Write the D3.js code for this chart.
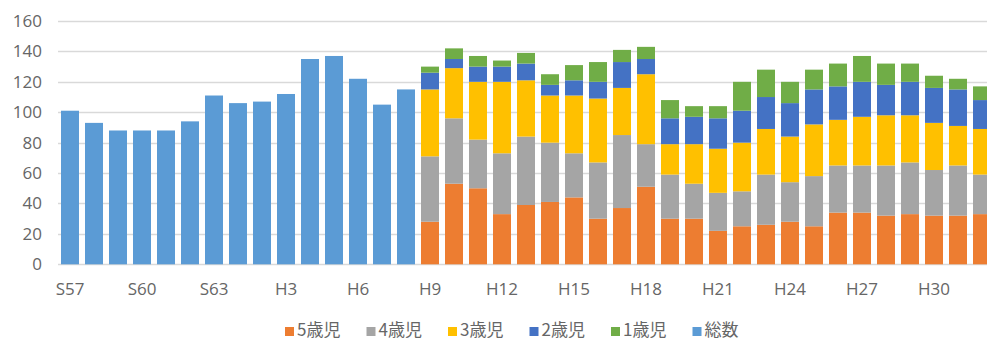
<!DOCTYPE html>
<html><head><meta charset="utf-8">
<script src="https://cdn.jsdelivr.net/npm/d3@7"></script>
<style>body{margin:0;background:#fff;} svg{display:block;}</style>
</head><body><svg id="c" width="987" height="340"></svg>
<script>
// Categories (fiscal years)
const years = ["S57","S58","S59","S60","S61","S62","S63",
  "H1","H2","H3","H4","H5","H6","H7","H8","H9","H10","H11","H12","H13","H14","H15",
  "H16","H17","H18","H19","H20","H21","H22","H23","H24","H25","H26","H27","H28","H29","H30","R1","R2"];
const tickLabels = ["S57","S60","S63","H3","H6","H9","H12","H15","H18","H21","H24","H27","H30"];
const yTicks = [0,20,40,60,80,100,120,140,160];

// 総数 (S57 - H8)
const totalYears = years.slice(0, 15);
const total = [101,93,88,88,88,94,111,106,107,112,135,137,122,105,115];

// By age (H9 - R2)
const ageYears = years.slice(15);
const age5 = [28,53,50,33,39,41,44,30,37,51,30,30,22,25,26,28,25,34,34,32,33,32,32,33];
const age4 = [43,43,32,40,45,39,29,37,48,28,29,23,25,23,33,26,33,31,31,33,34,30,33,26];
const age3 = [44,33,38,47,37,31,38,42,31,46,20,26,29,32,30,30,34,30,32,33,31,31,26,30];
const age2 = [11,6,10,10,11,7,10,11,17,10,17,18,20,21,21,22,23,22,23,20,22,23,24,19];
const age1 = [4,7,7,4,7,7,10,13,8,8,12,7,8,19,18,14,13,15,17,14,12,8,7,9];

const seriesNames = ["5歳児","4歳児","3歳児","2歳児","1歳児","総数"];
const colors = ["#ED7D31","#A5A5A5","#FFC000","#4472C4","#70AD47","#5B9BD5"];

const svg = d3.select("#c");
const x = d3.scaleBand().domain(years).range([58, 58 + years.length*24])
  .paddingInner(0.25).paddingOuter(0.125);
const y = d3.scaleLinear().domain([0,160]).range([264.3, 21]);

const textColor = "#666666";
const numFont = "'Open Sans', 'Noto Sans', sans-serif";

// gridlines
svg.append("g").selectAll("line").data(yTicks).join("line")
  .attr("x1", 58).attr("x2", 987)
  .attr("y1", d => Math.round(y(d)) + 0.5).attr("y2", d => Math.round(y(d)) + 0.5)
  .attr("stroke", "#D9D9D9").attr("stroke-width", 1.3);

// y axis labels
const yAxis = d3.axisLeft(y).tickValues(yTicks).tickSize(0).tickPadding(0);
const gy = svg.append("g").attr("transform", "translate(42,0)").call(yAxis);
gy.select(".domain").remove();
gy.selectAll("text").attr("fill", textColor).style("font-family", numFont).style("font-size", "17px");

// x axis labels
const xAxis = d3.axisBottom(x).tickValues(tickLabels).tickSize(0).tickPadding(0);
const gx = svg.append("g").attr("transform", "translate(0,283)").call(xAxis);
gx.select(".domain").remove();
gx.selectAll("text").attr("fill", textColor).style("font-family", numFont).style("font-size", "17px");

// total bars
svg.append("g").selectAll("rect").data(totalYears.map((yr,i)=>({yr, v: total[i]}))).join("rect")
  .attr("x", d => x(d.yr)).attr("width", x.bandwidth())
  .attr("y", d => y(d.v)).attr("height", d => y(0) - y(d.v))
  .attr("fill", colors[5]);

// stacked bars
const rows = ageYears.map((yr,i)=>({yr, a5: age5[i], a4: age4[i], a3: age3[i], a2: age2[i], a1: age1[i]}));
const keys = ["a5","a4","a3","a2","a1"];
const stacked = d3.stack().keys(keys)(rows);
svg.append("g").selectAll("g").data(stacked).join("g")
  .attr("fill", (d,i) => colors[i])
  .selectAll("rect").data(d => d).join("rect")
  .attr("x", d => x(d.data.yr)).attr("width", x.bandwidth())
  .attr("y", d => y(d[1])).attr("height", d => y(d[0]) - y(d[1]));

// legend
const leg = svg.append("g").attr("transform", "translate(285,330)");
const legItems = leg.selectAll("g").data(seriesNames).join("g")
  .attr("transform", (d,i) => `translate(${i*81.5},0)`);
legItems.append("rect").attr("x", 0).attr("y", -3).attr("width", 9).attr("height", 9)
  .attr("fill", (d,i) => colors[i]);
legItems.append("text").attr("x", 12).attr("y", 6).text(d => d)
  .attr("fill", textColor).style("font-family", "'Noto Sans CJK JP', sans-serif").style("font-size", "17px");
</script>
</body></html>
